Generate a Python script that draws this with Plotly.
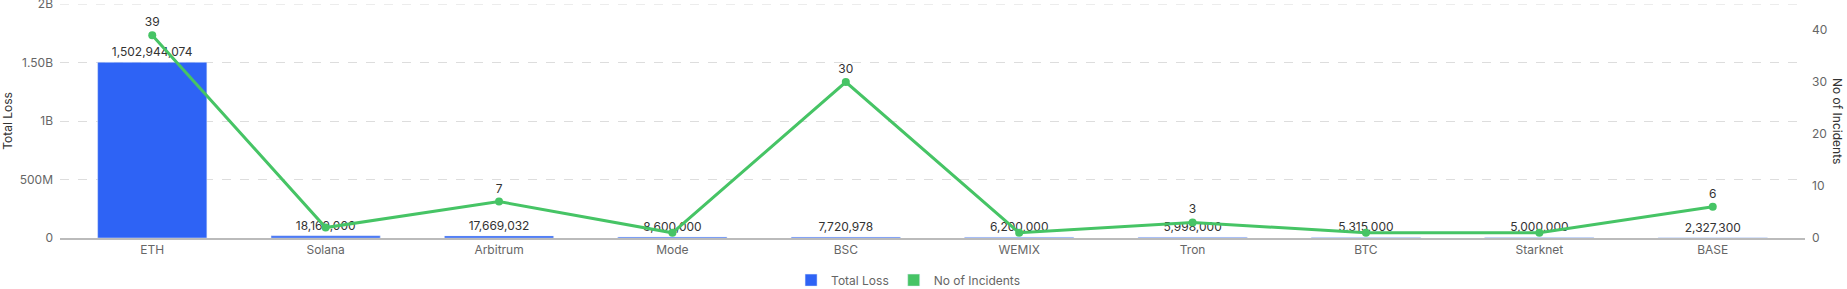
import plotly.graph_objects as go

categories = ["ETH", "Solana", "Arbitrum", "Mode", "BSC", "WEMIX", "Tron", "BTC", "Starknet", "BASE"]
total_loss = [1502944074, 18169000, 17669032, 8600000, 7720978, 6200000, 5998000, 5315000, 5000000, 2327300]
incidents = [39, 2, 7, 1, 30, 1, 3, 1, 1, 6]
incident_labels = ["39", "", "7", "", "30", "", "3", "", "", "6"]

left_tickvals = [0, 500e6, 1e9, 1.5e9, 2e9]
left_ticktext = ["0", "500M", "1B", "1.50B", "2B"]

BLUE = "#2e63f5"
GREEN = "#46c465"
FONT = "Inter, Roboto, sans-serif"

fig = go.Figure()
fig.add_trace(go.Bar(
    x=categories, y=total_loss, marker_color=BLUE, width=0.63,
    texttemplate="%{y:,.0f}", textposition="outside",
    textfont=dict(size=12, color="#333"), cliponaxis=False,
    showlegend=False, yaxis="y",
))
fig.add_trace(go.Scatter(
    x=categories, y=incidents, mode="lines+markers+text", yaxis="y2",
    line=dict(color=GREEN, width=3), marker=dict(color=GREEN, size=8),
    text=incident_labels, textposition="top center",
    textfont=dict(size=12, color="#333"), cliponaxis=False, showlegend=False,
))
# legend entries (square swatches)
fig.add_trace(go.Bar(x=[categories[0]], y=[None], name="Total Loss", marker_color=BLUE, hoverinfo="skip"))
fig.add_trace(go.Bar(x=[categories[0]], y=[None], name="No of Incidents", marker_color=GREEN, hoverinfo="skip"))

fig.update_layout(
    width=1847, height=289,
    margin=dict(l=60, r=42, t=4, b=51, autoexpand=False),
    paper_bgcolor="white", plot_bgcolor="white",
    font=dict(family=FONT, size=12, color="#666"),
    bargap=0.37, barmode="overlay",
    xaxis=dict(
        type="category", showgrid=False, showline=True, linecolor="#bbbbbb", linewidth=2,
        ticks="", tickfont=dict(size=12, color="#666"), fixedrange=True, automargin=False,
    ),
    yaxis=dict(
        range=[0, 2.0005e9], tickvals=left_tickvals, ticktext=left_ticktext,
        showgrid=True, gridcolor="#dddddd", griddash="dash", gridwidth=1,
        zeroline=False, showline=False, ticks="", ticklabelstandoff=6,
        ticklabeloverflow="allow",
        title=dict(text="Total Loss", font=dict(size=12, color="#333"), standoff=8),
        tickfont=dict(size=12, color="#666"), automargin=False,
    ),
    yaxis2=dict(
        overlaying="y", side="right", range=[0, 45],
        tickvals=[0, 10, 20, 30, 40], showgrid=False, zeroline=False,
        showline=False, ticks="", ticklabelstandoff=6, ticklabeloverflow="allow",
        tickfont=dict(size=12, color="#666"), automargin=False,
    ),
    legend=dict(
        orientation="h", x=0.486, xanchor="center", y=-0.18, yanchor="middle",
        font=dict(size=12, color="#666"),
    ),
    shapes=[dict(
        type="line", xref="paper", x0=0, x1=1, yref="y", y0=left_tickvals[-1], y1=left_tickvals[-1],
        line=dict(color="#dddddd", width=1, dash="dash"), layer="below",
    )],
    annotations=[dict(
        text="No of Incidents", xref="paper", yref="paper", x=1.0, y=0.5,
        xshift=33, textangle=90, showarrow=False,
        font=dict(size=12, color="#333"), xanchor="center", yanchor="middle",
    )],
)

fig.write_html("out.html")
